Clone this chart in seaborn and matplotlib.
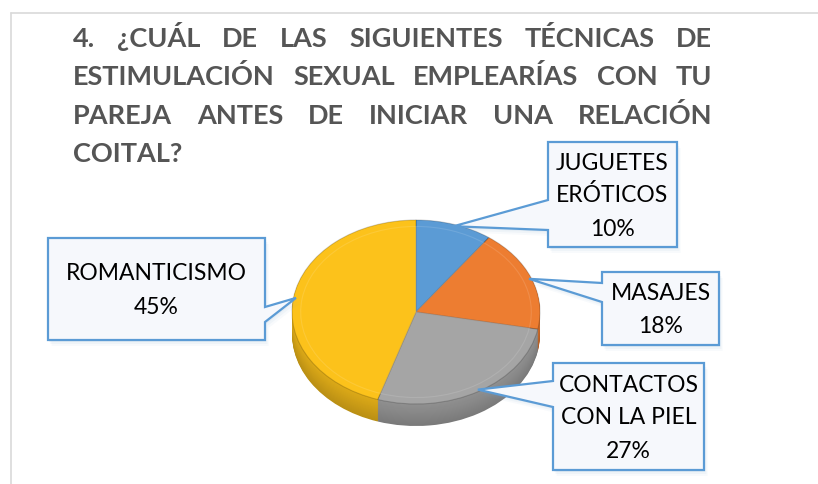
import numpy as np
import matplotlib
matplotlib.use("Agg")
import matplotlib.pyplot as plt
import matplotlib.colors as mcolors
from matplotlib.patches import Polygon
import seaborn as sns

# datos del gráfico
title_lines = [
    "4. ¿CUÁL DE LAS SIGUIENTES TÉCNICAS DE",
    "ESTIMULACIÓN SEXUAL EMPLEARÍAS CON TU",
    "PAREJA ANTES DE INICIAR UNA RELACIÓN",
    "COITAL?",
]
categories = ["JUGUETES\nERÓTICOS", "MASAJES", "CONTACTOS\nCON LA PIEL", "ROMANTICISMO"]
percentages = [10, 18, 27, 45]
slice_colors = ["#5B9BD5", "#ED7D31", "#A5A5A5", "#FCC21B"]

sns.set_theme(style="white")
plt.rcParams['font.family'] = ['Lato', 'DejaVu Sans']

W, H = 818, 484
fig = plt.figure(figsize=(W / 100, H / 100), dpi=100)
fig.patch.set_facecolor("white")

# ejes del pastel: centro (416, 312) px, radios 124 x 92 px
cx, cy, rx, ry = 416, 312, 124, 92
depth = 22 / ry
ax = fig.add_axes([0, 0, 1, 1])

def shade(c, f):
    r, g, b = mcolors.to_rgb(c)
    return (r * f, g * f, b * f)

# lateral del pastel (capas apiladas)
n_layers = 24
for i in range(n_layers, 0, -1):
    d = depth * i / n_layers
    f = 0.74 + 0.14 * (1 - i / n_layers)
    ax.pie(percentages, colors=[shade(c, f) for c in slice_colors], startangle=90,
           counterclock=False, center=(0, -d),
           wedgeprops=dict(linewidth=0, antialiased=True))

# superficie superior
ax.pie(percentages, colors=slice_colors, startangle=90, counterclock=False,
       center=(0, 0), wedgeprops=dict(linewidth=0.8, edgecolor=(0, 0, 0, 0.18)))
ax.pie(percentages, colors=["none"] * 4, startangle=90, counterclock=False,
       center=(0, 0), radius=0.93,
       wedgeprops=dict(linewidth=0.8, edgecolor=(1, 1, 1, 0.12), fill=False))

ax.set_aspect("auto")
ax.set_xlim(-cx / rx, (W - cx) / rx)
ax.set_ylim((cy - H) / ry, cy / ry)
ax.axis("off")

# capa de anotaciones en píxeles
ax2 = fig.add_axes([0, 0, 1, 1], zorder=5)
ax2.set_xlim(0, W)
ax2.set_ylim(H, 0)
ax2.axis("off")
ax2.patch.set_alpha(0)

# marco
ax2.plot([11, W], [13, 13], color="#D9D9D9", lw=1.2)
ax2.plot([11, 11], [13, H], color="#D9D9D9", lw=1.2)

# título justificado
renderer = fig.canvas.get_renderer()
title_left, title_right = 73, 712
baselines = [47, 85, 124, 162]
for li, (line, yb) in enumerate(zip(title_lines, baselines)):
    words = line.split(" ")
    texts = [ax2.text(0, yb, w, fontsize=19.5, fontweight="bold", color="#555555",
                      ha="left", va="baseline") for w in words]
    widths = [t.get_window_extent(renderer).width for t in texts]
    if li < len(title_lines) - 1 and len(words) > 1:
        gap = (title_right - title_left - sum(widths)) / (len(words) - 1)
    else:
        gap = 7
    x = title_left
    for t, w in zip(texts, widths):
        t.set_x(x)
        x += w + gap

# cajas de llamada: (x0, y0, x1, y1, lado, ya, yb)
boxes = [
    (548, 142, 677, 247, "left", 200, 230),
    (602, 272, 719, 345, "left", 283, 302),
    (553, 363, 704, 470, "left", 381, 407),
    (48, 238, 265, 340, "right", 307, 322),
]

cum = np.cumsum([0] + percentages)
for k, (cat, p) in enumerate(zip(categories, percentages)):
    mid = np.deg2rad((cum[k] + p / 2) / sum(percentages) * 360)
    tip_data = (0.98 * np.sin(mid), 0.98 * np.cos(mid))
    tip = ax2.transData.inverted().transform(ax.transData.transform(tip_data))
    x0, y0, x1, y1, side, ya, yb = boxes[k]
    if side == "left":
        verts = [(x0, y0), (x1, y0), (x1, y1), (x0, y1), (x0, yb), tuple(tip), (x0, ya)]
    else:
        verts = [(x0, y0), (x1, y0), (x1, ya), tuple(tip), (x1, yb), (x1, y1), (x0, y1)]
    # sombra suave
    for s, a in [(6, 0.05), (4, 0.07), (2, 0.10)]:
        sh = [(vx + s * 0.6, vy + s) for vx, vy in verts]
        ax2.add_patch(Polygon(sh, closed=True, facecolor="#7FA6D0", edgecolor="none",
                              alpha=a, zorder=2, joinstyle="round"))
    ax2.add_patch(Polygon(verts, closed=True, facecolor="#F6F8FC", edgecolor="#5B9BD5",
                          lw=1.6, zorder=3, joinstyle="miter"))
    lines = cat.split("\n") + [f"{p}%"]
    yc = (y0 + y1) / 2
    xc = (x0 + x1) / 2
    n = len(lines)
    for j, txt in enumerate(lines):
        yl = yc + (j - (n - 1) / 2) * 33
        ax2.text(xc, yl + 8, txt, fontsize=16.5, color="#000000", ha="center",
                 va="baseline", zorder=4)

fig.savefig("out.png", dpi=100)
